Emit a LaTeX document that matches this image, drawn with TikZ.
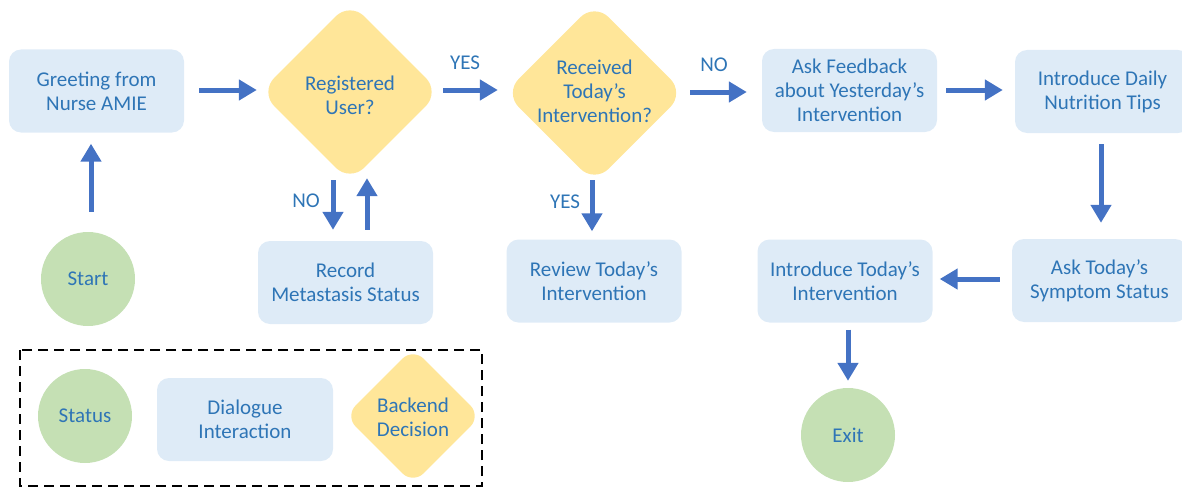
\documentclass[tikz,border=0pt]{standalone}
\usepackage{fontspec}
\setmainfont{Carlito}
\usetikzlibrary{arrows.meta,shapes.geometric}
\definecolor{boxfill}{HTML}{DEEBF7}
\definecolor{diafill}{HTML}{FFE699}
\definecolor{circfill}{HTML}{C5E0B4}
\definecolor{txtblue}{HTML}{2E75B6}
\definecolor{arrblue}{HTML}{4472C4}
\begin{document}
\begin{tikzpicture}[x=1pt,y=-1pt,
  txt/.style={text=txtblue, font=\fontsize{21}{24}\selectfont, align=center},
  dlg/.style={txt, rectangle, rounded corners=12pt, fill=boxfill, minimum width=175pt, minimum height=83pt, inner sep=0pt},
  dia/.style={diamond, fill=diafill, minimum width=180pt, minimum height=180pt, rounded corners=20pt, inner sep=0pt},
  stat/.style={txt, circle, fill=circfill, minimum size=94pt, inner sep=0pt},
  arr/.style={draw=arrblue, line width=5pt, -{Triangle[width=20pt,length=18pt]}},
  lbl/.style={txt, inner sep=0pt}
]
\useasboundingbox (0,0) rectangle (1182,487);

% main flow
\node[dlg] (greet) at (96.5,91) {Greeting from\\Nurse AMIE};
\node[dia] (reg) at (350,92) {};
\node[txt] (regt) at (350,95) {Registered\\User?};
\node[dia] (rec) at (594.5,93) {};
\node[txt] (rect) at (594.5,91) {Received\\Today’s\\Intervention?};
\node[dlg] (ask) at (849.5,90.5) {Ask Feedback\\about Yesterday’s\\Intervention};
\node[dlg] (daily) at (1102.5,91.5) {Introduce Daily\\Nutrition Tips};
\node[dlg] (symptom) at (1099.5,280.5) {Ask Today’s\\Symptom Status};
\node[dlg] (intro) at (845,281) {Introduce Today’s\\Intervention};
\node[stat] (exitc) at (848,435) {Exit};
\node[stat] (start) at (88,279) {Start};
\node[dlg] (record) at (345.5,282.5) {Record\\Metastasis Status};
\node[dlg] (review) at (594,281) {Review Today’s\\Intervention};

% connectors
\draw[arr] ([xshift=15pt,yshift=1pt]greet.east) -- ([xshift=-3pt,yshift=2pt]reg.west);
\draw[arr] ([xshift=3pt,yshift=2pt]reg.east) -- ([xshift=-6.5pt,yshift=3pt]rec.west);
\draw[arr] ([xshift=5.5pt,yshift=1pt]rec.east) -- ([xshift=-15pt,yshift=-1.5pt]ask.west);
\draw[arr] ([xshift=9pt,yshift=0.5pt]ask.east) -- ([xshift=-12pt,yshift=1.5pt]daily.west);
\draw[arr] ([xshift=-1.5pt,yshift=-11pt]daily.south) -- ([xshift=1.5pt,yshift=16pt]symptom.north);
\draw[arr] ([xshift=-12pt,yshift=1.5pt]symptom.west) -- ([xshift=7pt,yshift=2pt]intro.east);
\draw[arr] ([xshift=3pt,yshift=-7pt]intro.south) -- ([yshift=7pt]exitc.north);
\draw[arr] ([xshift=3pt,yshift=20pt]start.north) -- ([xshift=-5.5pt,yshift=-11pt]greet.south);
\draw[arr] ([xshift=-17pt,yshift=2pt]reg.south) -- ([xshift=-12.5pt,yshift=11pt]record.north);
\draw[arr] ([xshift=21.5pt,yshift=11pt]record.north) -- ([xshift=17pt,yshift=4pt]reg.south);
\draw[arr] ([xshift=-2.5pt,yshift=3pt]rec.south) -- ([xshift=-2pt,yshift=8pt]review.north);

% labels
\node[lbl] (yes1) at (465,63) {YES};
\node[lbl] (no1) at (714,65) {NO};
\node[lbl] (no2) at (306,201) {NO};
\node[lbl] (yes2) at (565,202) {YES};

% legend
\draw[black, line width=2.5pt, dash pattern=on 10pt off 6pt] (20,350) rectangle (482,486);
\node[stat] (lstat) at (85,416) {Status};
\node[dlg, minimum width=176pt] (ldlg) at (245,419.5) {Dialogue\\Interaction};
\node[dia, minimum width=136pt, minimum height=136pt, rounded corners=15pt] (ldia) at (413,416) {};
\node[txt] (ldiat) at (413,417) {Backend\\Decision};
\end{tikzpicture}
\end{document}
